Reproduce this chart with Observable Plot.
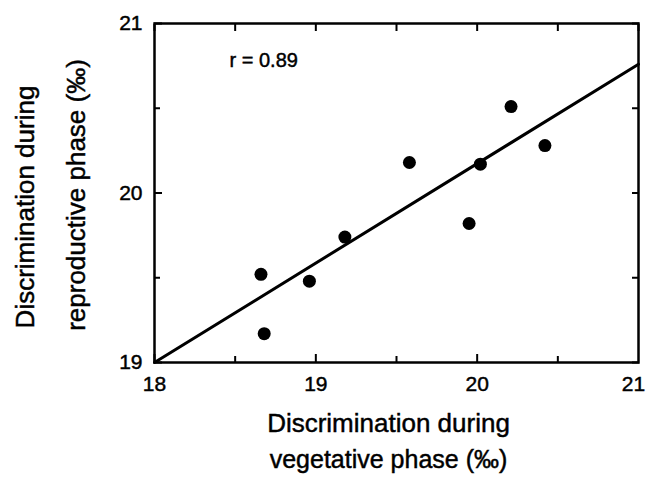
<!DOCTYPE html>
<html><head><meta charset="utf-8">
<script src="https://cdn.jsdelivr.net/npm/d3@7"></script>
<script src="https://cdn.jsdelivr.net/npm/@observablehq/plot@0.6"></script>
<style>
body{margin:0;background:#fff}
svg text{stroke:#000;stroke-width:0.45px}
g[aria-label="axis title"] text{word-spacing:10px;letter-spacing:0.5px}
g[aria-label="annotation"] text{letter-spacing:0.6px}
</style>
</head><body><div id="chart"></div>
<script>
const vegetative   = [18.66, 18.68, 18.96, 19.18, 19.58, 19.95, 20.02, 20.21, 20.42];
const reproductive = [19.52, 19.17, 19.48, 19.74, 20.18, 19.82, 20.17, 20.51, 20.28];
const fitX = [18, 21];
const fitY = [19.0, 20.76];
const xMajorTicks = [18, 19, 20, 21];
const xMinorTicks = [18.5, 19.5, 20.5];
const yMajorTicks = [19, 20, 21];
const yMinorTicks = [19.5, 20.5];
const annotation = "r = 0.89";
const xLabelLines = ["Discrimination during", "vegetative phase (‰)"];
const yLabelLines = ["Discrimination during", "reproductive phase (‰)"];

const pts = vegetative.map((v, i) => ({v, r: reproductive[i]}));
const fit = fitX.map((x, i) => ({x, y: fitY[i]}));
const blank = () => "";
const lastX = xMajorTicks[xMajorTicks.length - 1];

const chart = Plot.plot({
  width: 646, height: 477,
  marginLeft: 154, marginRight: 8, marginTop: 23, marginBottom: 115,
  style: {fontFamily: "'Liberation Sans', Arial, sans-serif", background: "#fff", color: "#000"},
  x: {domain: [18, 21]},
  y: {domain: [19, 21]},
  marks: [
    Plot.frame({stroke: "#000", strokeWidth: 2.5}),
    Plot.axisX({anchor: "bottom", ticks: xMajorTicks.slice(0, -1), tickSize: -8, tickPadding: 22, fontSize: 21, strokeWidth: 2, tickFormat: d => String(d), label: null}),
    Plot.axisX({anchor: "bottom", ticks: [lastX], tickSize: 0, tickPadding: 14, dx: -5, fontSize: 21, tickFormat: d => String(d), label: null}),
    Plot.axisX({anchor: "bottom", ticks: xMinorTicks, tickSize: -6, strokeWidth: 2, tickFormat: blank, label: null}),
    Plot.axisX({anchor: "top", ticks: xMajorTicks.concat(xMinorTicks), tickSize: -7, strokeWidth: 2, tickFormat: blank, label: null}),
    Plot.axisY({anchor: "left", ticks: yMajorTicks, tickSize: -8, tickPadding: 20, fontSize: 21, strokeWidth: 2, tickFormat: d => String(d), label: null}),
    Plot.axisY({anchor: "left", ticks: yMinorTicks, tickSize: -6, strokeWidth: 2, tickFormat: blank, label: null}),
    Plot.axisY({anchor: "right", ticks: yMajorTicks.concat(yMinorTicks), tickSize: -7, strokeWidth: 2, tickFormat: blank, label: null}),
    Plot.line(fit, {x: "x", y: "y", stroke: "#000", strokeWidth: 3}),
    Plot.dot(pts, {x: "v", y: "r", r: 6.5, fill: "#000", stroke: "none"}),
    Plot.text([annotation], {frameAnchor: "top-left", dx: 75, dy: 37, text: d => d, textAnchor: "start", lineAnchor: "middle", fontSize: 20, fill: "#000", ariaLabel: "annotation"}),
    Plot.text([xLabelLines[0]], {frameAnchor: "bottom", dx: -8, dy: 61, text: d => d, textAnchor: "middle", lineAnchor: "middle", fontSize: 26, fill: "#000", ariaLabel: "axis title"}),
    Plot.text([xLabelLines[1]], {frameAnchor: "bottom", dx: -8, dy: 97, text: d => d, textAnchor: "middle", lineAnchor: "middle", fontSize: 25, fill: "#000", ariaLabel: "axis title"}),
    Plot.text([yLabelLines[0]], {frameAnchor: "left", dx: -129, dy: 14, rotate: -90, text: d => d, textAnchor: "middle", lineAnchor: "middle", fontSize: 26, fill: "#000", ariaLabel: "axis title"}),
    Plot.text([yLabelLines[1]], {frameAnchor: "left", dx: -78, dy: 2, rotate: -90, text: d => d, textAnchor: "middle", lineAnchor: "middle", fontSize: 26, fill: "#000", ariaLabel: "axis title"})
  ]
});
document.getElementById("chart").appendChild(chart);
</script>
</body></html>
